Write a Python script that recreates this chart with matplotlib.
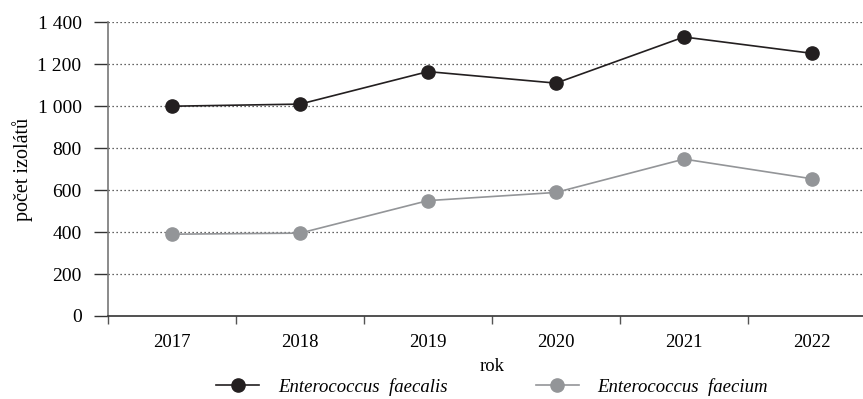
import numpy as np
import matplotlib
matplotlib.use("Agg")
import matplotlib.pyplot as plt

years = ["2017", "2018", "2019", "2020", "2021", "2022"]
faecalis = [1000, 1010, 1165, 1110, 1330, 1252]
faecium = [390, 395, 550, 589, 748, 654]
yticks = [0, 200, 400, 600, 800, 1000, 1200, 1400]
ytick_labels = ["0", "200", "400", "600", "800", "1 000", "1 200", "1 400"]

plt.rcParams['font.family'] = ['Liberation Serif', 'DejaVu Serif']
plt.rcParams['font.size'] = 13.5

fig = plt.figure(figsize=(8.63, 3.99), dpi=100)
ax = fig.add_axes([108 / 863, 83 / 399, 768 / 863, 293.7 / 399])

x = np.arange(len(years))
ax.plot(x, faecalis, color='#231f20', lw=1.2, marker='o', ms=9.5,
        label='Enterococcus  faecalis', zorder=3)
ax.plot(x, faecium, color='#939598', lw=1.2, marker='o', ms=9.5,
        label='Enterococcus  faecium', zorder=3)

ax.set_xlim(-0.5, len(years) - 0.5)
ax.set_ylim(0, 1400)
ax.set_yticks(yticks)
ax.set_yticklabels(ytick_labels, fontsize=14)
ax.set_xticks(x)
ax.set_xticklabels(years)
ax.set_xticks(np.arange(-0.5, len(years), 1), minor=True)
ax.tick_params(axis='x', which='major', length=0, pad=13)
ax.tick_params(axis='x', which='minor', length=6, width=1, color='#555555',
               direction='out')
ax.tick_params(axis='y', length=10, width=1, color='#333333', pad=9)

for v in yticks[1:]:
    ax.axhline(v, color='#333333', lw=0.9, ls=(0, (1, 2.2)), zorder=1)

for s in ['top', 'right']:
    ax.spines[s].set_visible(False)
ax.spines['left'].set_color('#777777')
ax.spines['bottom'].set_color('#333333')
ax.spines['left'].set_linewidth(1.2)
ax.spines['bottom'].set_linewidth(1.2)

ax.set_xlabel('rok')
ax.xaxis.set_label_coords(0.5, -0.143)
ax.set_ylabel('počet izolátů', fontsize=14.5, va='center')
ax.yaxis.set_label_coords(-0.111, 0.5)

ax.legend(loc='center', bbox_to_anchor=(0.5, -0.242), ncol=2,
          frameon=False, handlelength=2.3, handletextpad=1.0,
          columnspacing=4.7, prop={'style': 'italic', 'size': 13.5})

fig.savefig('out.png', dpi=100)
plt.close()
